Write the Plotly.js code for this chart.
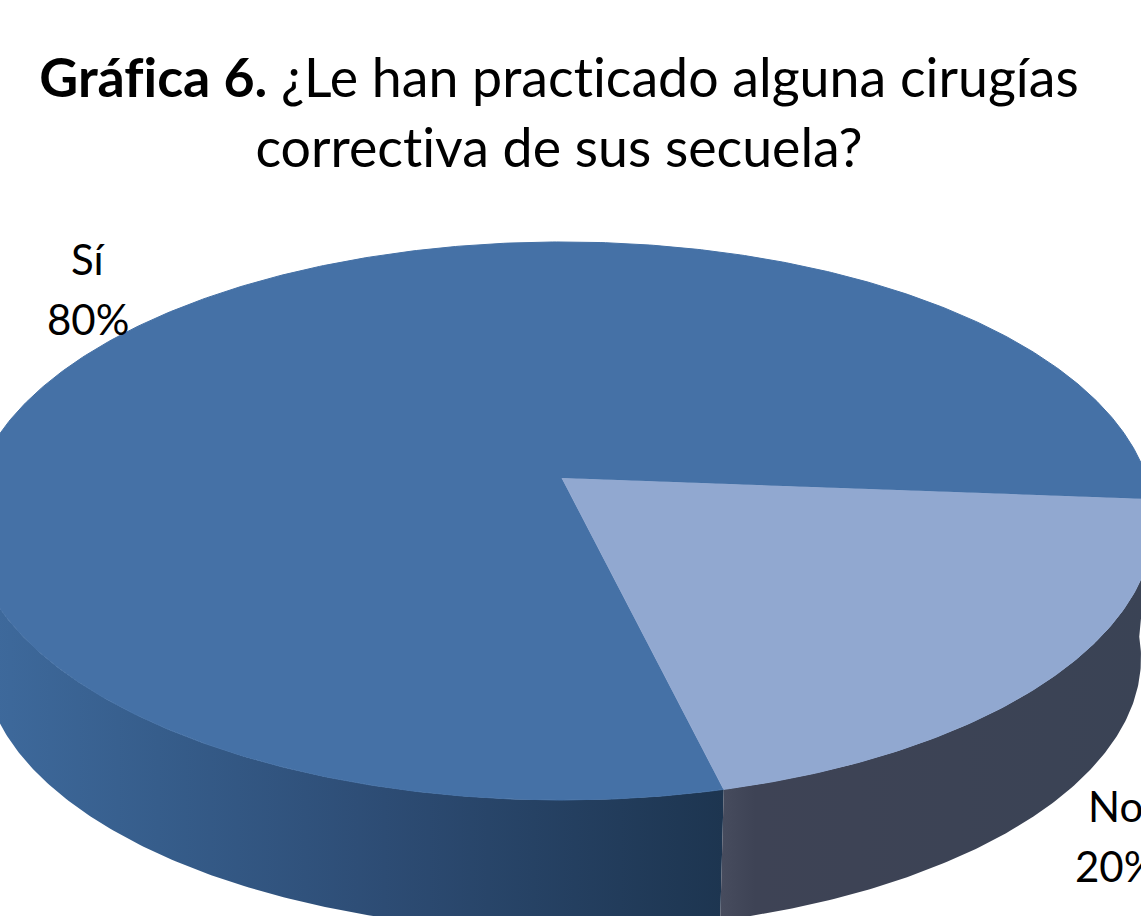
<!DOCTYPE html>
<html><head><meta charset="utf-8">
<script src="https://cdn.plot.ly/plotly-3.0.1.min.js"></script>
<style>html,body{margin:0;padding:0;background:#fff;overflow:hidden}#c{width:1141px;height:916px}text{font-variant-ligatures:none !important;font-feature-settings:"liga" 0,"clig" 0 !important}</style>
</head><body><div id="c"></div>
<script>
const categories = ['Sí', 'No'];
const values = [80, 20];
const topColors = ['#4571A6', '#91A8D0'];
const wallStops = [
  [[0, '#3F6B9E'], [0.25, '#365D8B'], [0.55, '#2D4C74'], [1, '#1D3550']],
  [[0, '#474C5E'], [0.08, '#3E4355'], [1, '#3A4355']]
];
const W = 1141, H = 916;
// Projection of the tilted disc onto the page
const cx = 562, cy = 478, R = 585, A = 272.4, k = 0.154;
const depth = 138, wallScale = 0.978;
const startDeg = -4.4;

const rad = d => d * Math.PI / 180;
function project(deg, dy, s) {
  const c = Math.cos(rad(deg)), n = Math.sin(rad(deg)), f = 1 + k * n;
  return [cx + s * R * c / f, cy + dy - s * A * n / f];
}
function arc(from, to, dy, s) {
  const pts = [], steps = Math.ceil(Math.abs(to - from) * 2);
  for (let i = 0; i <= steps; i++) pts.push(project(from + (to - from) * i / steps, dy, s));
  return pts;
}
const total = values.reduce((a, b) => a + b, 0);
const sweep = values.map(v => v / total * 360);
const siFrom = startDeg, siTo = startDeg + sweep[0];
const noFrom = startDeg - sweep[1], noTo = startDeg;

function face(pts, color, name) {
  return {type: 'scatter', mode: 'lines', name, x: pts.map(p => p[0]), y: pts.map(p => p[1]),
    fill: 'toself', fillcolor: color, line: {width: 1, color}, hoverinfo: 'name', showlegend: false};
}
function wall(from, to, stops, name) {
  const a = arc(from, to, 0, 1), b = arc(to, from, depth, wallScale);
  const pts = a.concat(b);
  return {type: 'scatter', mode: 'lines', name, x: pts.map(p => p[0]), y: pts.map(p => p[1]),
    fill: 'toself', fillgradient: {type: 'horizontal', colorscale: stops}, line: {width: 0},
    hoverinfo: 'name', showlegend: false};
}
const apex = [[cx, cy]];
const traces = [
  wall(-180, siTo - 360, wallStops[0], categories[0]),
  wall(noFrom, noTo, wallStops[1], categories[1]),
  face(apex.concat(arc(siFrom, siTo, 0, 1)), topColors[0], categories[0]),
  face(apex.concat(arc(noFrom, noTo, 0, 1)), topColors[1], categories[1])
];
const lab = (text, x, y) => ({text, x: x / W, y: 1 - y / H, xref: 'paper', yref: 'paper',
  xanchor: 'center', yanchor: 'middle', showarrow: false, font: {size: 42, color: '#000'}});
const layout = {
  width: W, height: H, margin: {l: 0, r: 0, t: 0, b: 0},
  paper_bgcolor: '#fff', plot_bgcolor: '#fff', showlegend: false,
  font: {family: 'Lato, "Open Sans", sans-serif', color: '#000'},
  title: {text: '<b>Gráfica 6.</b> ¿Le han practicado alguna cirugías<br>correctiva de sus secuela?',
    x: 559 / W, xanchor: 'center', y: 1 - 97 / H, yanchor: 'top', font: {size: 53.7, color: '#000'}},
  xaxis: {range: [0, W], visible: false, fixedrange: true},
  yaxis: {range: [H, 0], visible: false, fixedrange: true},
  annotations: [
    lab(categories[0], 88, 259), lab(values[0] + '%', 88, 319),
    lab(categories[1], 1115, 806), lab(values[1] + '%', 1116, 866)
  ]
};
Plotly.newPlot('c', traces, layout, {displayModeBar: false, staticPlot: true});
</script></body></html>
